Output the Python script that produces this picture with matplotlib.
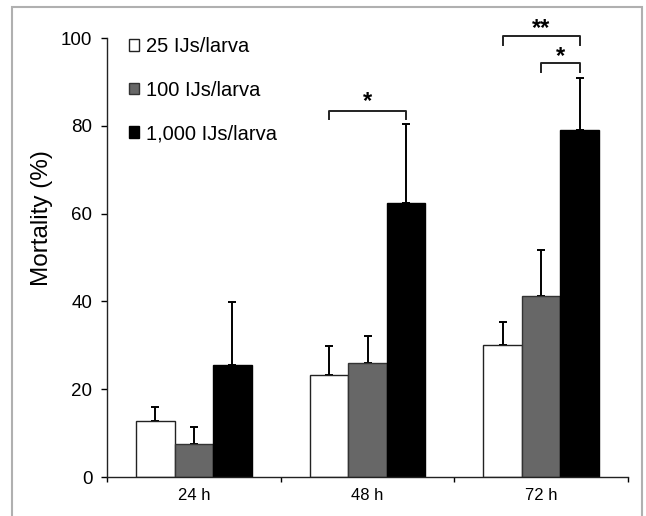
import matplotlib
matplotlib.use("Agg")
import matplotlib.pyplot as plt
from matplotlib.patches import Patch, Rectangle
import numpy as np

plt.rcParams['font.family'] = ['Liberation Sans', 'DejaVu Sans']

categories = ["24 h", "48 h", "72 h"]
series_labels = ["25 IJs/larva", "100 IJs/larva", "1,000 IJs/larva"]
mean_25 = [12.7, 23.2, 30.1]
mean_100 = [7.5, 26.0, 41.3]
mean_1000 = [25.6, 62.4, 79.0]
err_25 = [3.3, 6.6, 5.3]
err_100 = [4.0, 6.2, 10.4]
err_1000 = [14.3, 18.0, 12.0]
yticks = [0, 20, 40, 60, 80, 100]

means = [mean_25, mean_100, mean_1000]
errs = [err_25, err_100, err_1000]
colors = ["white", "#676767", "black"]
edges = ["#222222", "#333333", "black"]

W, H = 646, 516
fig = plt.figure(figsize=(W / 100, H / 100), dpi=100)
ax = fig.add_axes([107 / W, 1 - 477 / H, (628 - 107) / W, (477 - 38) / H])

x = np.arange(len(categories))
bw = 0.222
offsets = [-bw, 0, bw]
for m, e, c, ec, off, lab in zip(means, errs, colors, edges, offsets, series_labels):
    ax.bar(x + off, m, width=bw, color=c, edgecolor=ec, linewidth=1.0, zorder=2, label=lab)
    ax.errorbar(x + off, m, yerr=[np.zeros(len(e)), e], fmt='none', ecolor='black',
                elinewidth=1.4, capsize=2.6, capthick=1.4, zorder=1)

ax.set_xlim(-0.5, 2.5)
ax.set_ylim(0, 100)
ax.set_yticks(yticks)
ax.tick_params(axis='y', direction='out', length=4.5, width=1.0, labelsize=13.5, pad=6)
ax.set_xticks([-0.5, 0.5, 1.5, 2.5])
ax.set_xticklabels([])
ax.set_xticks(x, minor=True)
ax.set_xticklabels(categories, minor=True)
ax.tick_params(axis='x', which='major', direction='out', length=3.5, width=1.0)
ax.tick_params(axis='x', which='minor', length=0, labelsize=12, pad=8)
for s in ['top', 'right']:
    ax.spines[s].set_visible(False)
for s in ['left', 'bottom']:
    ax.spines[s].set_linewidth(1.0)
    ax.spines[s].set_color('#222222')
ax.set_ylabel("Mortality (%)", fontsize=17.5)
ax.yaxis.set_label_coords(-0.103, 0.59)

# significance brackets
def bracket(x0, x1, ytop, ylow, text, tx, ty):
    ax.plot([x0, x0, x1, x1], [ylow, ytop, ytop, ylow], color='#222222', lw=1.4,
            clip_on=False, zorder=3)
    ax.text(tx, ty, text, ha='center', va='center', fontsize=17, fontweight='bold',
            clip_on=False)

bracket(1 - bw, 1 + bw, 83.4, 81.6, "*", 1.0, 85.6)
bracket(2 - bw, 2 + bw, 100.4, 98.4, "**", 2.0, 102.1)
bracket(2.0, 2 + bw, 94.2, 92.3, "*", 2 + bw / 2, 95.8)

handles = [Patch(facecolor=c, edgecolor=ec, linewidth=1.0) for c, ec in zip(colors, edges)]
ax.legend(handles, series_labels, loc='upper left', bbox_to_anchor=(0.042, 1.002),
          frameon=False, fontsize=14.5, handlelength=0.5, handleheight=0.5,
          handletextpad=0.35, labelspacing=1.22, borderaxespad=0, borderpad=0)

# figure border
fig.patches.append(Rectangle((12 / W, -0.05), (642 - 12) / W, 1.05 - 7 / H,
                             transform=fig.transFigure, fill=False,
                             edgecolor='#b0b0b0', linewidth=1.5))

fig.savefig("out.png", dpi=100)
